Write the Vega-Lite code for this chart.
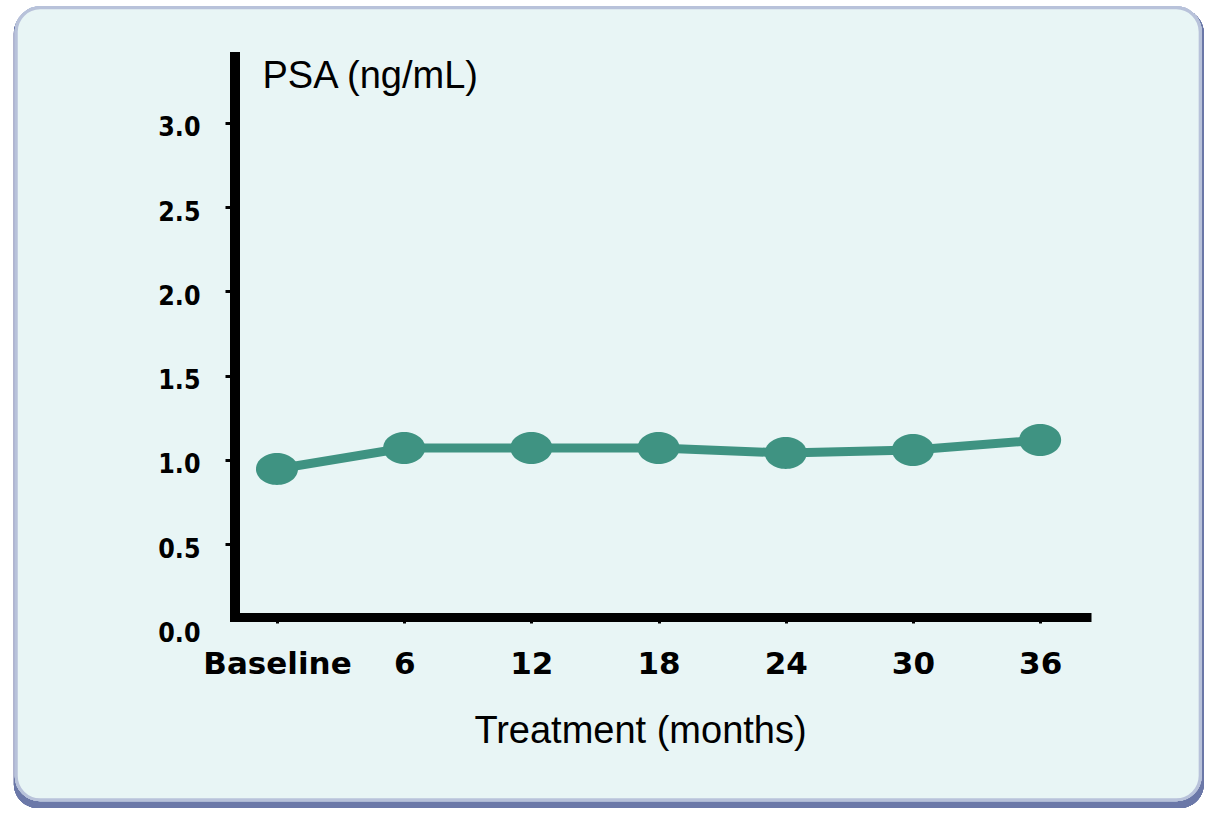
{
  "$schema": "https://vega.github.io/schema/vega-lite/v6.json",
  "width": 856,
  "height": 565,
  "autosize": {"type": "none"},
  "padding": {"left": 235, "top": 52, "right": 118, "bottom": 199},
  "background": "#ffffff",
  "config": {"view": {"stroke": null}},
  "data": {
    "values": [
      {"month": 0, "psa": 0.945},
      {"month": 6, "psa": 1.07},
      {"month": 12, "psa": 1.07},
      {"month": 18, "psa": 1.07},
      {"month": 24, "psa": 1.04},
      {"month": 30, "psa": 1.058},
      {"month": 36, "psa": 1.117}
    ]
  },
  "encoding": {
    "x": {
      "field": "month",
      "type": "quantitative",
      "scale": {"domain": [-1.98, 38.4], "nice": false, "zero": false},
      "axis": {
        "zindex": 1,
        "values": [0, 6, 12, 18, 24, 30, 36],
        "labelExpr": "datum.value == 0 ? 'Baseline' : datum.label",
        "grid": false,
        "domainColor": "#000000",
        "domainWidth": 9,
        "tickColor": "#000000",
        "tickWidth": 3,
        "tickSize": 6,
        "labelFont": "DejaVu Sans",
        "labelFontWeight": "bold",
        "labelFontSize": 31,
        "labelColor": "#000000",
        "labelPadding": 26,
        "labelFlush": false,
        "labelOverlap": false,
        "title": "Treatment (months)",
        "titleFont": "Liberation Sans",
        "titleFontWeight": "normal",
        "titleFontSize": 38,
        "titleColor": "#000000",
        "titleX": 405,
        "titleY": 125,
        "titleAlign": "center",
        "titleBaseline": "alphabetic"
      }
    },
    "y": {
      "field": "psa",
      "type": "quantitative",
      "scale": {"domain": [0, 3.42], "range": [576.3, 0], "nice": false, "zero": false},
      "axis": {
        "zindex": 1,
        "values": [0, 0.5, 1, 1.5, 2, 2.5, 3],
        "format": ".1f",
        "grid": false,
        "domain": false,
        "tickColor": {"condition": {"test": "datum.value == 0", "value": "transparent"}, "value": "#000000"},
        "tickWidth": 3,
        "tickSize": 10,
        "labelFont": "DejaVu Sans Condensed",
        "labelFontWeight": "bold",
        "labelFontSize": 26.5,
        "labelColor": "#000000",
        "labelPadding": 25,
        "labelOffset": 5,
        "labelFlush": false,
        "labelOverlap": false,
        "title": "PSA (ng/mL)",
        "titleFont": "Liberation Sans",
        "titleFontWeight": "normal",
        "titleFontSize": 38,
        "titleColor": "#000000",
        "titleAngle": 0,
        "titleAlign": "left",
        "titleBaseline": "alphabetic",
        "titleX": 27,
        "titleY": 35
      }
    }
  },
  "layer": [
    {
      "mark": {"type": "rect", "fill": "#6b78a8", "cornerRadius": 24, "clip": false},
      "encoding": {
        "x": {"datum": -12.41},
        "x2": {"datum": 43.72},
        "y": {"datum": 3.673},
        "y2": {"datum": -1.066}
      }
    },
    {
      "mark": {"type": "rect", "fill": "#e8f5f5", "stroke": "#b8c2da", "strokeWidth": 3, "cornerRadius": 24, "clip": false},
      "encoding": {
        "x": {"datum": -12.3},
        "x2": {"datum": 43.55},
        "y": {"datum": 3.682},
        "y2": {"datum": -1.018}
      }
    },
    {
      "mark": {"type": "rule", "color": "#000000", "strokeWidth": 10, "strokeCap": "butt"},
      "encoding": {
        "x": {"datum": -1.98},
        "y": {"datum": 3.42},
        "y2": {"datum": 0.04}
      }
    },
    {
      "mark": {"type": "line", "color": "#3f9382", "strokeWidth": 9}
    },
    {
      "mark": {
        "type": "point",
        "filled": true,
        "opacity": 1,
        "color": "#3f9382",
        "shape": "M-1,0 A1,0.76 0 1,1 1,0 A1,0.76 0 1,1 -1,0 Z",
        "size": 1764
      }
    }
  ]
}
